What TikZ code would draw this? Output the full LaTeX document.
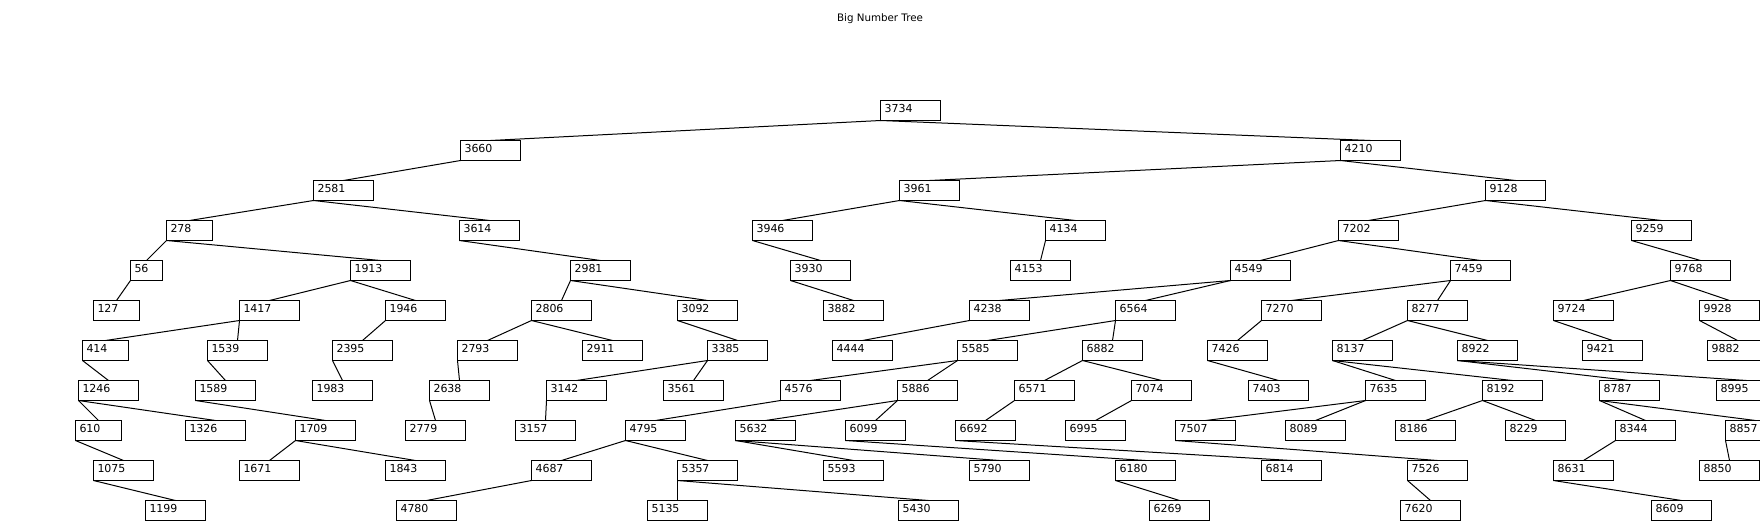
\documentclass[tikz,border=0pt]{standalone}
\usepackage{fontspec}
\newfontfamily\dejavu{DejaVu Sans}
\begin{document}
\begin{tikzpicture}[x=1pt,y=-1pt,
  tbox/.style={draw=black,line width=1pt,inner sep=0pt,outer sep=0pt,
    text height=11.5pt,text depth=8.5pt,anchor=north west,
    font=\dejavu\fontsize{11}{13}\selectfont},
  edge/.style={draw=black,line width=1pt},
  titletext/.style={anchor=base,inner sep=0pt,font=\dejavu\fontsize{10.3}{12}\selectfont}]
\useasboundingbox (0,0) rectangle (1760,520);
\fill[white] (0,0) rectangle (1760,520);
\clip (0,0) rectangle (1760,520);
\node[titletext] (title) at (880,21) {Big Number Tree};
% value/x/y/width
\foreach \v/\x/\y/\w in {
  3734/880/100/60,
  3660/460/140/60, 4210/1340/140/60,
  2581/313/180/60, 3961/899/180/60, 9128/1485/180/60,
  278/166/220/46, 3614/459/220/60, 3946/752/220/60, 4134/1045/220/60, 7202/1338/220/60, 9259/1631/220/60,
  56/130/260/32, 1913/350/260/60, 2981/570/260/60, 3930/790/260/60, 4153/1010/260/60, 4549/1230/260/60, 7459/1450/260/60, 9768/1670/260/60,
  127/93/300/46, 1417/239/300/60, 1946/385/300/60, 2806/531/300/60, 3092/677/300/60, 3882/823/300/60, 4238/969/300/60, 6564/1115/300/60, 7270/1261/300/60, 8277/1407/300/60, 9724/1553/300/60, 9928/1699/300/60,
  414/82/340/46, 1539/207/340/60, 2395/332/340/60, 2793/457/340/60, 2911/582/340/60, 3385/707/340/60, 4444/832/340/60, 5585/957/340/60, 6882/1082/340/60, 7426/1207/340/60, 8137/1332/340/60, 8922/1457/340/60, 9421/1582/340/60, 9882/1707/340/60,
  1246/78/380/60, 1589/195/380/60, 1983/312/380/60, 2638/429/380/60, 3142/546/380/60, 3561/663/380/60, 4576/780/380/60, 5886/897/380/60, 6571/1014/380/60, 7074/1131/380/60, 7403/1248/380/60, 7635/1365/380/60, 8192/1482/380/60, 8787/1599/380/60, 8995/1716/380/60,
  610/75/420/46, 1326/185/420/60, 1709/295/420/60, 2779/405/420/60, 3157/515/420/60, 4795/625/420/60, 5632/735/420/60, 6099/845/420/60, 6692/955/420/60, 6995/1065/420/60, 7507/1175/420/60, 8089/1285/420/60, 8186/1395/420/60, 8229/1505/420/60, 8344/1615/420/60, 8857/1725/420/60,
  1075/93/460/60, 1671/239/460/60, 1843/385/460/60, 4687/531/460/60, 5357/677/460/60, 5593/823/460/60, 5790/969/460/60, 6180/1115/460/60, 6814/1261/460/60, 7526/1407/460/60, 8631/1553/460/60, 8850/1699/460/60,
  1199/145/500/60, 4780/396/500/60, 5135/647/500/60, 5430/898/500/60, 6269/1149/500/60, 7620/1400/500/60, 8609/1651/500/60}
  \node[tbox] (n\v) at ({\x+0.5},{\y+0.5}) {\hbox to \w pt{\hspace*{4pt}\v\hfil}};
\foreach \p/\c in {
  3734/3660, 3734/4210, 3660/2581, 4210/3961, 4210/9128,
  2581/278, 2581/3614, 3961/3946, 3961/4134, 9128/7202, 9128/9259,
  278/56, 278/1913, 3614/2981, 3946/3930, 4134/4153, 7202/4549, 7202/7459, 9259/9768,
  56/127, 1913/1417, 1913/1946, 2981/2806, 2981/3092, 3930/3882, 4549/4238, 4549/6564,
  7459/7270, 7459/8277, 9768/9724, 9768/9928,
  1417/414, 1417/1539, 1946/2395, 2806/2793, 2806/2911, 3092/3385, 4238/4444,
  6564/5585, 6564/6882, 7270/7426, 8277/8137, 8277/8922, 9724/9421, 9928/9882,
  414/1246, 1539/1589, 2395/1983, 2793/2638, 3385/3142, 3385/3561, 5585/4576, 5585/5886,
  6882/6571, 6882/7074, 7426/7403, 8137/7635, 8137/8192, 8922/8787, 8922/8995,
  1246/610, 1246/1326, 1589/1709, 2638/2779, 3142/3157, 4576/4795, 5886/5632, 5886/6099,
  6571/6692, 7074/6995, 7635/7507, 7635/8089, 8192/8186, 8192/8229, 8787/8344, 8787/8857,
  610/1075, 1709/1671, 1709/1843, 4795/4687, 4795/5357, 5632/5593, 5632/5790, 6099/6180,
  6692/6814, 7507/7526, 8344/8631, 8857/8850,
  1075/1199, 4687/4780, 5357/5135, 5357/5430, 6180/6269, 7526/7620, 8631/8609}
  \draw[edge] (n\p.south west) -- (n\c.north);
\end{tikzpicture}
\end{document}
